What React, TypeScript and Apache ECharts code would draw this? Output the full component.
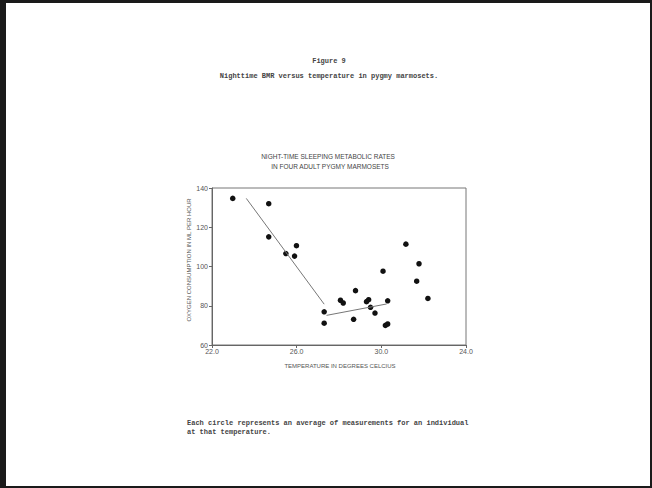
import React, { useEffect, useRef } from "react";
import * as echarts from "echarts";

const temps = [22.98, 24.68, 24.68, 25.49, 25.9, 25.99, 27.3, 27.3, 28.07, 28.2, 28.69, 28.78, 29.3, 29.4, 29.49, 29.7, 30.08, 30.19, 30.3, 30.3, 31.16, 31.67, 31.78, 32.2];
const oxygen = [134.7, 132.0, 115.1, 106.6, 105.3, 110.6, 76.9, 71.1, 82.8, 81.4, 73.1, 87.7, 82.1, 83.1, 79.2, 76.3, 97.6, 70.0, 70.7, 82.5, 111.4, 92.5, 101.4, 83.7];

const coldLineTemp = [23.62, 27.3];
const coldLineVal = [134.7, 80.8];
const warmLineTemp = [27.41, 30.25];
const warmLineVal = [75.1, 80.9];

const xTickValues = [22, 26, 30, 34];
const xTickLabels = ["22.0", "26.0", "30.0", "24.0"];

const figureTitle = "Figure 9";
const figureSubtitle = "Nighttime BMR versus temperature in pygmy marmosets.";
const chartTitle1 = "NIGHT-TIME SLEEPING METABOLIC RATES";
const chartTitle2 = "IN FOUR ADULT PYGMY MARMOSETS";
const yAxisName = "OXYGEN CONSUMPTION IN ML PER HOUR";
const xAxisName = "TEMPERATURE IN DEGREES CELCIUS";
const caption1 = "Each circle represents an average of measurements for an individual";
const caption2 = "at that temperature.";

const mono = "'Liberation Mono', 'DejaVu Sans Mono', monospace";
const sans = "'Liberation Sans', Arial, sans-serif";

export default function App() {
  const ref = useRef<HTMLDivElement>(null);
  useEffect(() => {
    document.body.style.margin = "0";
    const chart = echarts.init(ref.current!, null, { renderer: "svg" });
    chart.setOption({
      animation: false,
      backgroundColor: "#ffffff",
      grid: { left: 212, top: 188, right: 186, bottom: 143, show: true, borderColor: "#777", borderWidth: 1 },
      xAxis: {
        type: "value",
        min: 22,
        max: 34,
        interval: 4,
        axisLine: { show: true, lineStyle: { color: "#666", width: 1 } },
        axisTick: { show: true, length: 3, lineStyle: { color: "#666" } },
        splitLine: { show: false },
        axisLabel: {
          fontSize: 7,
          fontFamily: sans,
          color: "#555",
          margin: 3,
          formatter: (v: number) => {
            const i = xTickValues.indexOf(v);
            return i >= 0 ? xTickLabels[i] : "";
          },
        },
      },
      yAxis: {
        type: "value",
        min: 60,
        max: 140,
        interval: 20,
        axisLine: { show: true, lineStyle: { color: "#666", width: 1 } },
        axisTick: { show: true, length: 3, lineStyle: { color: "#666" } },
        splitLine: { show: false },
        axisLabel: { fontSize: 7, fontFamily: sans, color: "#555", margin: 4 },
      },
      series: [
        {
          type: "line",
          data: coldLineTemp.map((t, i) => [t, coldLineVal[i]]),
          symbol: "none",
          lineStyle: { color: "#777", width: 1 },
        },
        {
          type: "line",
          data: warmLineTemp.map((t, i) => [t, warmLineVal[i]]),
          symbol: "none",
          lineStyle: { color: "#777", width: 1 },
        },
        {
          type: "scatter",
          data: temps.map((t, i) => [t, oxygen[i]]),
          symbol: "circle",
          symbolSize: 5.5,
          itemStyle: { color: "#111", opacity: 1 },
        },
      ],
      graphic: [
        { type: "rect", shape: { x: 0, y: 0, width: 652, height: 3 }, style: { fill: "#1a1a1a" } },
        { type: "rect", shape: { x: 0, y: 0, width: 6, height: 488 }, style: { fill: "#1a1a1a" } },
        { type: "rect", shape: { x: 0, y: 486, width: 652, height: 2 }, style: { fill: "#1a1a1a" } },
        { type: "rect", shape: { x: 650, y: 0, width: 2, height: 488 }, style: { fill: "#1a1a1a" } },
        { type: "text", x: 329, y: 61, style: { text: figureTitle, font: `bold 7px ${mono}`, fill: "#444", align: "center", verticalAlign: "middle" } },
        { type: "text", x: 329, y: 76, style: { text: figureSubtitle, font: `bold 7px ${mono}`, fill: "#444", align: "center", verticalAlign: "middle" } },
        { type: "text", x: 328, y: 156, style: { text: chartTitle1, font: `6.5px ${sans}`, fill: "#444", align: "center", verticalAlign: "middle" } },
        { type: "text", x: 330, y: 166, style: { text: chartTitle2, font: `6.5px ${sans}`, fill: "#444", align: "center", verticalAlign: "middle" } },
        { type: "text", x: 189, y: 260, rotation: Math.PI / 2, style: { text: yAxisName, font: `6px ${sans}`, fill: "#555", align: "center", verticalAlign: "middle" } },
        { type: "text", x: 340, y: 366, style: { text: xAxisName, font: `6px ${sans}`, fill: "#555", align: "center", verticalAlign: "middle" } },
        { type: "text", x: 187, y: 423, style: { text: caption1, font: `bold 7px ${mono}`, fill: "#444", align: "left", verticalAlign: "middle" } },
        { type: "text", x: 187, y: 432, style: { text: caption2, font: `bold 7px ${mono}`, fill: "#444", align: "left", verticalAlign: "middle" } },
      ],
    });
    return () => chart.dispose();
  }, []);
  return <div ref={ref} style={{ width: 652, height: 488 }} />;
}
